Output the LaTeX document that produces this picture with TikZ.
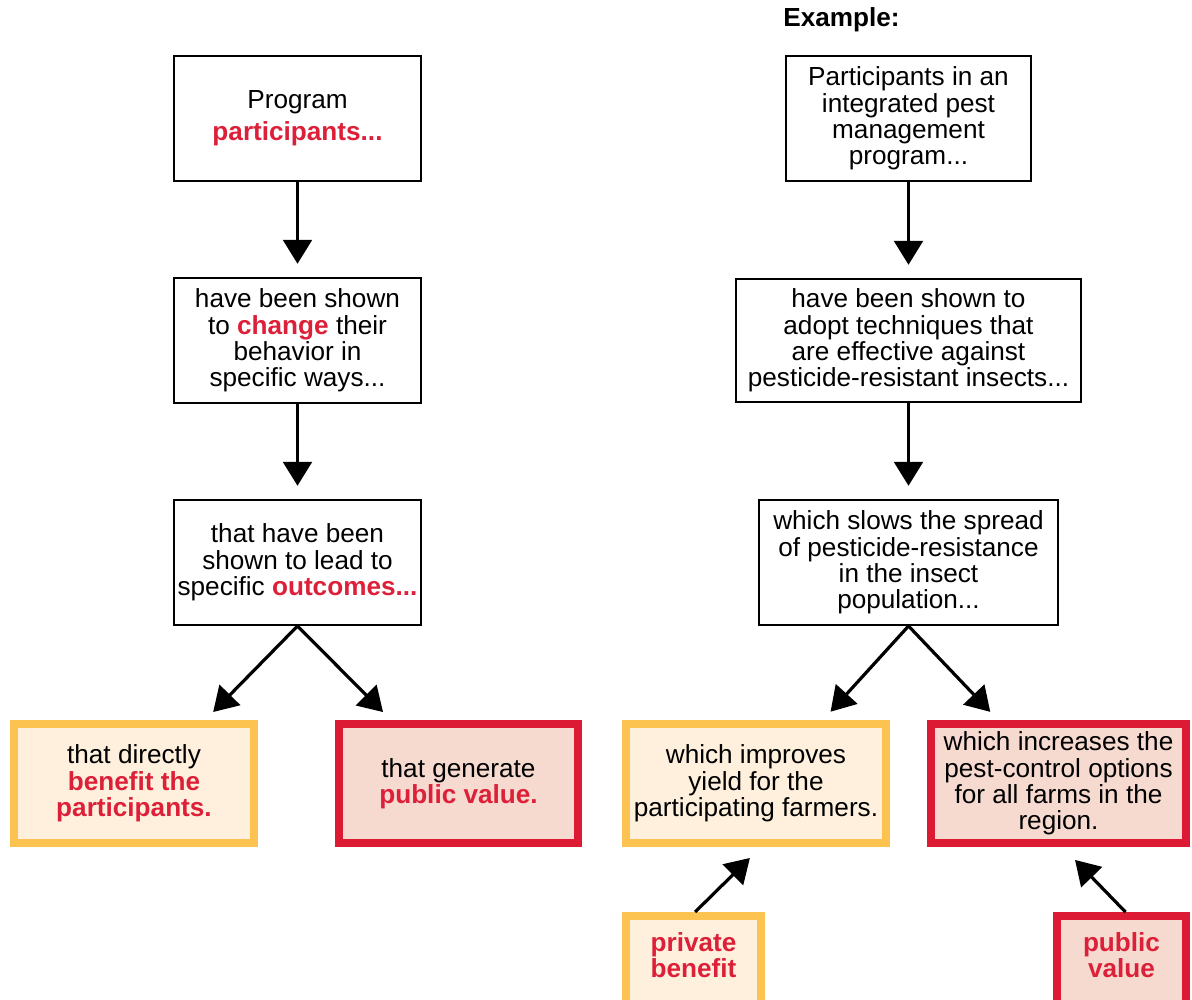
\documentclass[tikz,border=0pt]{standalone}
\usepackage{fontspec}
\setmainfont{Liberation Sans}
\usepackage{xcolor}
\usepackage{tikz}
\usetikzlibrary{arrows.meta,calc}
\definecolor{hired}{HTML}{DD2039}
\definecolor{pubedge}{HTML}{DC1A33}
\definecolor{pubfill}{HTML}{F6D9CF}
\definecolor{privedge}{HTML}{FDC350}
\definecolor{privfill}{HTML}{FEF0DC}
\newcommand{\hl}[1]{\textcolor{hired}{\bfseries #1}}

\begin{document}
\begin{tikzpicture}[
        x=0.025cm, y=-0.025cm,
        box/.style={
            rectangle,
            draw=black,
            line width=0.05cm,
            fill=white,
            align=center,
            font=\fontsize{18.6}{18.8}\selectfont,
            inner sep=2pt,
            minimum height=3.125cm
        },
        privbox/.style={
            box,
            draw=privedge,
            fill=privfill,
            line width=0.2cm,
            minimum height=2.975cm
        },
        pubbox/.style={
            privbox,
            draw=pubedge,
            fill=pubfill
        },
        tagbox/.style={
            anchor=north,
            minimum height=2.4cm,
            text depth=0.45cm
        },
        flow/.style={
            line width=0.08cm,
            -{Triangle[length=0.6cm,width=0.72cm]}
        }
    ]
        \useasboundingbox (0,0) rectangle (1192,1000);

        % general chain
        \node[box, minimum width=6.175cm] (prog) at (297.5,118.5) {
            Program\\[4pt]
            \hl{participants...}
        };
        \node[box, minimum width=6.175cm] (change) at (297.5,340.5) {
            have been shown\\
            to \hl{change} their\\
            behavior in\\
            specific ways...
        };
        \node[box, minimum width=6.175cm] (outc) at (297.5,562.5) {
            that have been\\
            shown to lead to\\
            specific \hl{outcomes...}
        };
        \node[privbox, minimum width=6cm] (benef) at (134,783.5) {
            that directly\\
            \hl{benefit the}\\
            \hl{participants.}
        };
        \node[pubbox, minimum width=5.975cm] (pubval) at (458.5,783.5) {
            that generate\\
            \hl{public value.}
        };

        \draw[flow, shorten >=0.33cm] (prog) -- (change);
        \draw[flow, shorten >=0.33cm] (change) -- (outc);
        \draw[flow, shorten >=0.28cm] (outc.south) -- ($(benef.north)!0.575!(benef.north east)$);
        \draw[flow, shorten >=0.28cm] (outc.south) -- ($(pubval.north)!0.547!(pubval.north west)$);

        % example chain
        \node[font=\fontsize{18.6}{18.8}\selectfont\bfseries] (exmp) at (841.5,20) {Example:};
        \node[box, minimum width=6.125cm] (ipm) at (908.5,118.5) {
            Participants in an\\
            integrated pest\\
            management\\
            program...
        };
        \node[box, minimum width=8.625cm, minimum height=3.075cm] (adopt) at (908.5,340.5) {
            have been shown to\\
            adopt techniques that\\
            are effective against\\
            pesticide-resistant insects...
        };
        \node[box, minimum width=7.475cm] (slows) at (908.5,562.5) {
            which slows the spread\\
            of pesticide-resistance\\
            in the insect\\
            population...
        };
        \node[privbox, minimum width=6.5cm] (yield) at (756,783.5) {
            which improves\\
            yield for the\\
            participating farmers.
        };
        \node[pubbox, minimum width=6.375cm] (options) at (1058.5,783.5) {
            which increases the\\
            pest-control options\\
            for all farms in the\\
            region.
        };
        \node[privbox, tagbox, minimum width=3.375cm] (privtag) at (693.5,912) {
            \hl{private}\\
            \hl{benefit}
        };
        \node[pubbox, tagbox, minimum width=3.225cm] (pubtag) at (1121.5,912) {
            \hl{public}\\
            \hl{value}
        };

        \draw[flow, shorten >=0.33cm] (ipm) -- (adopt);
        \draw[flow, shorten >=0.33cm] (adopt) -- (slows);
        \draw[flow, shorten >=0.28cm] (slows.south) -- ($(yield.north)!0.5!(yield.north east)$);
        \draw[flow, shorten >=0.28cm] (slows.south) -- ($(options.north)!0.46!(options.north west)$);
        \draw[flow, shorten >=0.39cm] ([xshift=0.04cm]privtag.north) -- ([xshift=0.125cm]yield.south);
        \draw[flow, shorten >=0.45cm] ([xshift=0.1cm]pubtag.north) -- ([xshift=0.1cm]options.south);
    \end{tikzpicture}
\end{document}
